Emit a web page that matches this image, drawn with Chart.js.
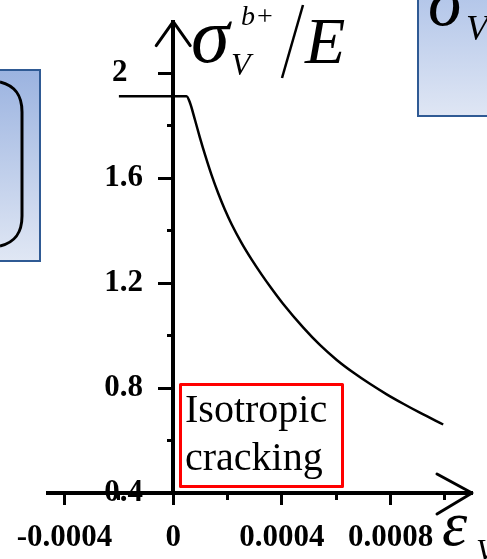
<!DOCTYPE html>
<html>
<head>
<meta charset="utf-8">
<script src="https://cdn.jsdelivr.net/npm/chart.js@4/dist/chart.umd.min.js"></script>
<style>
  html, body { margin: 0; padding: 0; background: #fff; }
  #myChart { display: block; }
</style>
</head>
<body>
<canvas id="myChart" width="487" height="559"></canvas>
<script>
// volumetric strain and normalised stress of the softening curve
const strain = [-0.0002, 0.000049, 0.000062, 0.00008, 0.000098, 0.000117, 0.000141, 0.000166,
  0.00019, 0.000215, 0.000252, 0.000289, 0.000325, 0.000362, 0.000405, 0.000479,
  0.00054, 0.000602, 0.000663, 0.000724, 0.000786, 0.000847, 0.000908, 0.000994];
const stressRatio = [1.912, 1.912, 1.886, 1.822, 1.755, 1.689, 1.612, 1.541,
  1.48, 1.424, 1.352, 1.289, 1.233, 1.179, 1.12, 1.03,
  0.964, 0.907, 0.859, 0.816, 0.776, 0.74, 0.706, 0.661];

const xMajor = [-0.0004, 0, 0.0004, 0.0008];
const xLabels = ['-0.0004', '0', '0.0004', '0.0008'];
const xMinor = [-0.0002, 0.0002, 0.0006, 0.001];
const yMajor = [0.4, 0.8, 1.2, 1.6, 2];
const yLabels = ['0.4', '0.8', '1.2', '1.6', '2'];
const yMinor = [0.6, 1.0, 1.4, 1.8];

const X_MIN = -0.000461, X_MAX = 0.0011;
const Y_MIN = 0.4, Y_MAX = 2.196;

const SERIF = '"Liberation Serif", "Times New Roman", serif';
const tickFont = { family: SERIF, size: 31, weight: 'bold' };

function panel(ctx, x, y, w, h, top, bottom) {
  const g = ctx.createLinearGradient(0, y, 0, y + h);
  g.addColorStop(0, top);
  g.addColorStop(1, bottom);
  ctx.fillStyle = g;
  ctx.fillRect(x, y, w, h);
  ctx.strokeStyle = '#2f5a94';
  ctx.lineWidth = 2;
  ctx.strokeRect(x, y, w, h);
}

const decorations = {
  id: 'decorations',
  beforeDraw(chart) {
    const ctx = chart.ctx;
    ctx.save();
    // neighbouring slide boxes
    panel(ctx, -4, 70, 44, 191, '#9bb3e0', '#e0e7f4');
    ctx.strokeStyle = '#000';
    ctx.lineWidth = 3;
    ctx.beginPath();
    ctx.moveTo(0, 82);
    ctx.bezierCurveTo(16, 86, 22, 96, 22, 112);
    ctx.lineTo(22, 216);
    ctx.bezierCurveTo(22, 232, 16, 242, 0, 246);
    ctx.stroke();

    panel(ctx, 418, -4, 74, 120, '#b3c6e9', '#dfe6f4');
    ctx.fillStyle = '#000';
    ctx.font = 'italic 70px ' + SERIF;
    ctx.fillText('σ', 428, 25);
    ctx.font = 'italic 36px ' + SERIF;
    ctx.fillText('V', 466, 40);
    ctx.restore();
  },
  afterDraw(chart) {
    const {ctx, chartArea, scales} = chart;
    const x0 = scales.x.getPixelForValue(0);
    const yb = scales.y.getPixelForValue(Y_MIN);
    ctx.save();
    // arrow heads on both axes
    ctx.strokeStyle = '#000';
    ctx.lineWidth = 3;
    ctx.lineCap = 'round';
    ctx.lineJoin = 'round';
    ctx.beginPath();
    ctx.moveTo(x0 - 17, chartArea.top + 24);
    ctx.lineTo(x0, chartArea.top);
    ctx.lineTo(x0 + 17, chartArea.top + 24);
    ctx.moveTo(chartArea.right - 35, yb - 19);
    ctx.lineTo(chartArea.right, yb);
    ctx.lineTo(chartArea.right - 35, yb + 21);
    ctx.stroke();

    // axis titles
    ctx.fillStyle = '#000';
    ctx.font = 'italic 78px ' + SERIF;
    ctx.fillText('σ', 191, 62);
    ctx.font = 'italic 28px ' + SERIF;
    ctx.fillText('b', 241, 25);
    ctx.font = '28px ' + SERIF;
    ctx.fillText('+', 257, 25);
    ctx.font = 'italic 32px ' + SERIF;
    ctx.fillText('V', 231, 75);
    ctx.lineWidth = 2.5;
    ctx.lineCap = 'butt';
    ctx.beginPath();
    ctx.moveTo(282, 78);
    ctx.lineTo(303, 5);
    ctx.stroke();
    ctx.font = 'italic 66px ' + SERIF;
    ctx.fillText('E', 305, 63);

    ctx.font = 'italic 64px ' + SERIF;
    ctx.fillText('ε', 442, 545);
    ctx.font = 'italic 32px ' + SERIF;
    ctx.fillText('V', 476, 561);

    // region note
    ctx.strokeStyle = '#ff0000';
    ctx.lineWidth = 3;
    ctx.strokeRect(180.5, 384.5, 162, 102);
    ctx.font = '40px ' + SERIF;
    ctx.fillText('Isotropic', 185, 422);
    ctx.fillText('cracking', 185, 470);
    ctx.restore();
  }
};

const ctx = document.getElementById('myChart').getContext('2d');
const myChart = new Chart(ctx, {
  type: 'line',
  data: {
    datasets: [{
      data: strain.map((s, i) => ({ x: s, y: stressRatio[i] })),
      borderColor: '#000',
      borderWidth: 2.5,
      pointRadius: 0,
      cubicInterpolationMode: 'monotone',
      fill: false
    }]
  },
  options: {
    responsive: false,
    animation: false,
    devicePixelRatio: 1,
    layout: { padding: { left: 48, right: 15, top: 20, bottom: 0 } },
    plugins: { legend: { display: false }, tooltip: { enabled: false } },
    scales: {
      x: {
        type: 'linear',
        position: 'bottom',
        min: X_MIN,
        max: X_MAX,
        afterFit: s => { s.height = 66; },
        afterBuildTicks: s => { s.ticks = xMajor.map(v => ({ value: v })); },
        ticks: {
          callback: (v, i) => xLabels[i],
          font: tickFont,
          color: '#000',
          padding: 14,
          maxRotation: 0,
          autoSkip: false
        },
        grid: { drawOnChartArea: false, tickLength: 12, tickWidth: 3, tickColor: '#000' },
        border: { display: true, width: 4, color: '#000' }
      },
      xMinor: {
        type: 'linear',
        position: { y: Y_MIN },
        min: X_MIN,
        max: X_MAX,
        afterBuildTicks: s => { s.ticks = xMinor.map(v => ({ value: v })); },
        ticks: { display: false },
        grid: { drawOnChartArea: false, tickLength: 7, tickWidth: 3, tickColor: '#000' },
        border: { display: false }
      },
      y: {
        type: 'linear',
        position: { x: 0 },
        min: Y_MIN,
        max: Y_MAX,
        afterBuildTicks: s => { s.ticks = yMajor.map(v => ({ value: v })); },
        ticks: { display: false },
        grid: { drawOnChartArea: false, tickLength: 13, tickWidth: 3, tickColor: '#000' },
        border: { display: true, width: 4, color: '#000' }
      },
      yMinor: {
        type: 'linear',
        position: { x: 0 },
        min: Y_MIN,
        max: Y_MAX,
        afterBuildTicks: s => { s.ticks = yMinor.map(v => ({ value: v })); },
        ticks: { display: false },
        grid: { drawOnChartArea: false, tickLength: 6, tickWidth: 3, tickColor: '#000' },
        border: { display: false }
      },
      // label column, set back from the axis line
      yText: {
        type: 'linear',
        position: { x: -0.0001115 },
        min: Y_MIN,
        max: Y_MAX,
        afterBuildTicks: s => { s.ticks = yMajor.map(v => ({ value: v })); },
        ticks: {
          // short labels padded so they sit centred in the column
          callback: (v, i) => yLabels[i].padEnd(3),
          font: tickFont,
          color: '#000',
          autoSkip: false
        },
        grid: { display: false },
        border: { display: false }
      }
    }
  },
  plugins: [decorations]
});
</script>
</body>
</html>
